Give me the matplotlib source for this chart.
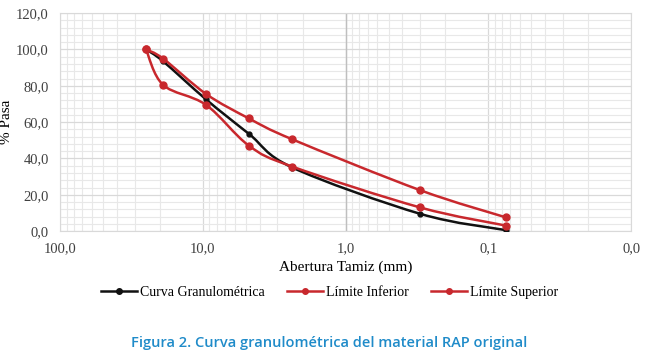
"""Curva granulométrica del material RAP original."""

import matplotlib

matplotlib.use("Agg")
import matplotlib.pyplot as plt
import numpy as np
from matplotlib.lines import Line2D
from matplotlib.patches import PathPatch
from matplotlib.path import Path
from matplotlib.ticker import FuncFormatter, LogLocator

# abertura de tamiz (mm) y % pasa
tamiz = [25, 19, 9.5, 4.75, 2.36, 0.3, 0.075]
curva = [100, 93.5, 72.5, 53.5, 35, 9.5, 0.5]
lim_inferior = [100, 80.5, 69.5, 47, 35.5, 13, 3]
lim_superior = [100, 95, 75.5, 62, 50.5, 22.5, 7.5]

series = [
    ("Curva Granulométrica", curva, "#111111", 3.5),
    ("Límite Inferior", lim_inferior, "#C8282D", 5),
    ("Límite Superior", lim_superior, "#C8282D", 5),
]

SERIF = "Liberation Serif"


def smooth_path(xs, ys):
    # suavizado tipo Excel (Catmull-Rom) en espacio log10(x), y
    lx = np.log10(np.asarray(xs, float))
    y = np.asarray(ys, float)
    pts = np.column_stack([lx, y])
    ext = np.vstack([pts[0], pts, pts[-1]])
    verts = [pts[0]]
    codes = [Path.MOVETO]
    for i in range(len(pts) - 1):
        p0, p1, p2, p3 = ext[i], ext[i + 1], ext[i + 2], ext[i + 3]
        c1 = p1 + (p2 - p0) / 6
        c2 = p2 - (p3 - p1) / 6
        verts += [c1, c2, p2]
        codes += [Path.CURVE4] * 3
    verts = np.array(verts)
    verts[:, 0] = 10 ** verts[:, 0]
    return Path(verts, codes)


fig = plt.figure(figsize=(6.46, 3.55), dpi=100)
ax = fig.add_axes([0.093, 0.349, 0.884, 0.614])

ax.set_xscale("log")
ax.set_xlim(100, 0.01)
ax.set_ylim(0, 120)
ax.set_yticks(np.arange(0, 121, 20))
ax.set_yticks(np.arange(0, 121, 4), minor=True)
ax.xaxis.set_major_locator(LogLocator(base=10))
ax.xaxis.set_minor_locator(LogLocator(base=10, subs=np.arange(2, 10)))

fmt = FuncFormatter(lambda v, p: f"{v:.1f}".replace(".", ","))
ax.xaxis.set_major_formatter(fmt)
ax.yaxis.set_major_formatter(fmt)
ax.xaxis.set_minor_formatter(FuncFormatter(lambda v, p: ""))

ax.grid(which="major", color="#D9D9D9", linewidth=0.9)
ax.grid(which="minor", color="#E8E8E8", linewidth=0.8)
ax.axvline(1, color="#BFBFBF", linewidth=1.0, zorder=1)
ax.set_axisbelow(True)
for s in ax.spines.values():
    s.set_color("#D9D9D9")
ax.tick_params(which="both", length=0, labelsize=10.5, colors="#404040", pad=8)
for lab in ax.get_xticklabels() + ax.get_yticklabels():
    lab.set_family(SERIF)

handles = []
for nombre, valores, color, ms in series:
    ax.add_patch(PathPatch(smooth_path(tamiz, valores), fill=False,
                           edgecolor=color, linewidth=1.8, zorder=3))
    ax.plot(tamiz, valores, linestyle="none", marker="o", markersize=ms,
            color=color, zorder=4)
    handles.append(Line2D([], [], color=color, linewidth=1.8, marker="o",
                          markersize=4, label=nombre))

ax.set_xlabel("Abertura Tamiz (mm)", family=SERIF, fontsize=11, labelpad=4)
ax.set_ylabel("% Pasa", family=SERIF, fontsize=11)
ax.yaxis.set_label_coords(-0.083, 0.5)

fig.legend(handles=handles, loc="center", bbox_to_anchor=(0.51, 0.177), ncol=3,
           frameon=False, handlelength=2.6, columnspacing=1.6, handletextpad=0.2,
           prop={"family": SERIF, "size": 10})

fig.text(0.51, 0.033, "Figura 2. Curva granulométrica del material RAP original",
         ha="center", va="center", color="#1F8BC9", fontsize=10.5,
         family="Open Sans", fontweight="semibold")

fig.savefig("out.png", dpi=100)
plt.close(fig)
